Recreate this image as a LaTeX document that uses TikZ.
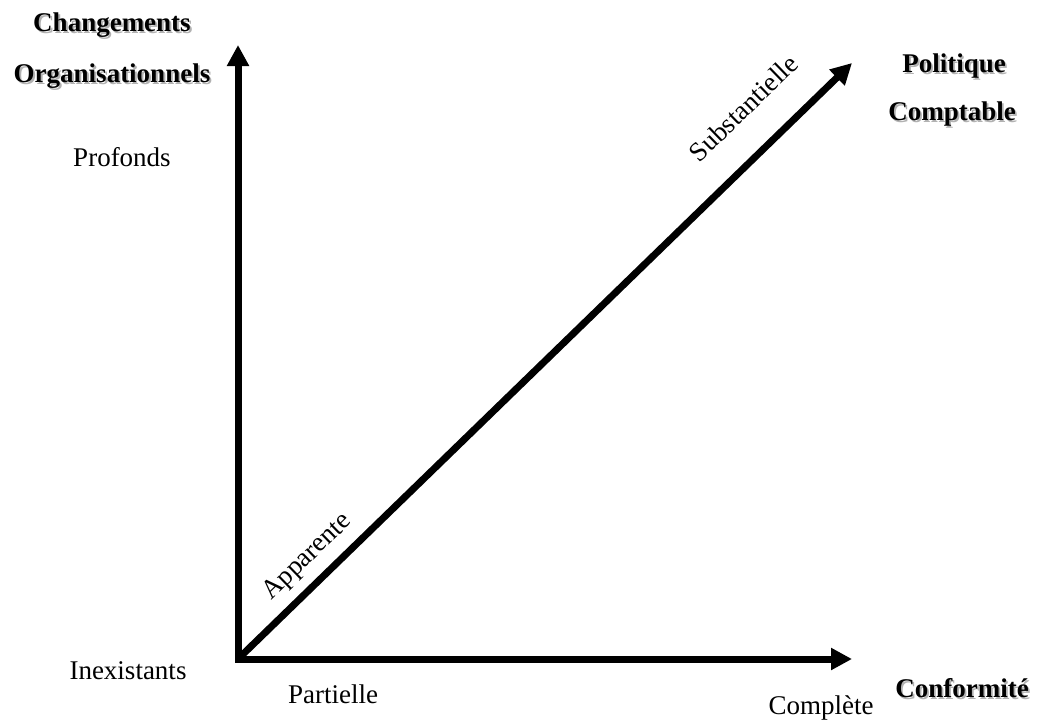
\documentclass[tikz,border=0pt]{standalone}
\usepackage{fontspec}
\setmainfont{Liberation Serif}
\usetikzlibrary{arrows.meta}

% titre en gras avec ombre grise
\newcommand{\titreOmbre}[3]{%
  \node[ombre, xshift=1.8pt, yshift=-1.8pt] at (#2) {#3};
  \node[titre] (#1) at (#2) {#3};}

\begin{document}
\begin{tikzpicture}[
  x=1pt, y=-1pt,
  every node/.style={font=\fontsize{27}{32}\selectfont, text height=0.7em, text depth=0.22em, inner sep=0pt},
  titre/.style={font=\fontsize{27}{32}\selectfont\bfseries, text=black},
  ombre/.style={font=\fontsize{27}{32}\selectfont\bfseries, text=black!30},
  axe/.style={line width=7pt, line join=miter, {Triangle[length=21pt,width=21pt]}-{Triangle[length=21pt,width=21pt]}},
  diag/.style={line width=7pt, -{Triangle[length=21pt,width=21pt]}}
  ]
  \useasboundingbox (0,0) rectangle (1040,720);

  % axes
  \coordinate (O) at (238,659);
  \coordinate (haut) at (238,45);
  \coordinate (droite) at (852,659);
  \coordinate (diagTip) at (852,63);
  \draw[axe] (haut) -- (O) -- (droite);
  \draw[diag] (O) -- (diagTip);

  % titres des axes
  \titreOmbre{chg}{112,29}{Changements}
  \titreOmbre{org}{112,80}{Organisationnels}
  \titreOmbre{pol}{954,70}{Politique}
  \titreOmbre{cpt}{952,118}{Comptable}
  \titreOmbre{conf}{962,695}{Conformité}

  % niveaux
  \node (profonds) at (122,164) {Profonds};
  \node (inexist) at (128,677) {Inexistants};
  \node (partielle) at (333,701) {Partielle};
  \node (complete) at (821,712) {Complète};
  \node[rotate=44.15] (apparente) at (310,560) {Apparente};
  \node[rotate=44.15] (substant) at (748,113) {Substantielle};
\end{tikzpicture}
\end{document}
